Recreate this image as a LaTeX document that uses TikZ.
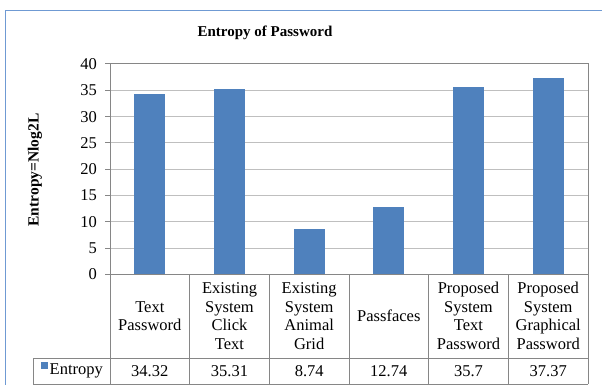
\documentclass[tikz,border=0pt]{standalone}
\usepackage{fontspec}
\setmainfont{Liberation Serif}
\definecolor{barblue}{HTML}{4F81BD}
\definecolor{framebl}{HTML}{6F9AD3}
\definecolor{gridc}{HTML}{BFBFBF}
\definecolor{axisc}{HTML}{868686}
\begin{document}
\begin{tikzpicture}[x=1pt,y=-1pt,
  lbl/.style={font=\fontsize{16.5}{18.5}\selectfont, inner sep=0pt},
  hdr/.style={lbl, align=center},
  grd/.style={draw=gridc, line width=1pt},
  axl/.style={draw=axisc, line width=1pt},
  tbl/.style={draw=axisc, line width=0.9pt},
  bar/.style={fill=barblue, draw=none}]
\useasboundingbox (0,0) rectangle (602,385);
% outer chart frame
\draw[draw=framebl, line width=1.2pt] (5.5,390) -- (5.5,10.5) -- (610,10.5);
% title
\node[font=\fontsize{15}{18}\bfseries\selectfont, inner sep=0pt] (title) at (265,33) {Entropy of Password};
% y label
\node[font=\fontsize{15.5}{18}\bfseries\selectfont, inner sep=0pt, rotate=90] (ylab) at (35,170) {Entropy=Nlog2L};
% gridlines
\foreach \v in {5,10,...,35} {
  \draw[grd] (110,{274.5-\v*5.2625}) -- (588,{274.5-\v*5.2625});
}
% plot border
\draw[axl] (110,64) -- (588,64) -- (588,274.5);
% tick marks and labels
\foreach \v in {0,5,...,40} {
  \draw[axl] (105,{274.5-\v*5.2625}) -- (110,{274.5-\v*5.2625});
  \node[lbl, anchor=east] (t\v) at (97,{274.5-\v*5.2625}) {\v};
}
% bars
\foreach \i/\val in {1/34.32,2/35.31,3/8.74,4/12.74,5/35.7,6/37.37} {
  \pgfmathsetmacro{\cx}{110+(\i-0.5)*79.67}
  \fill[barblue] ({\cx-15.5},274.5) rectangle ({\cx+15.5},{274.5-\val*5.2625});
}
% axis lines
\draw[axl] (110,64) -- (110,274.5);
\draw[axl] (110,274.5) -- (588,274.5);
% data table
\foreach \i in {0,...,6} {
  \draw[tbl] ({110+\i*79.67},274.5) -- ({110+\i*79.67},384);
}
\draw[tbl] (33,358) -- (588,358);
\draw[tbl] (33,384) -- (588,384);
\draw[tbl] (33,358) -- (33,384);
% header texts
\node[hdr] (h1) at (149.8,316) {Text\\Password};
\node[hdr] (h2) at (229.5,316) {Existing\\System\\Click\\Text};
\node[hdr] (h3) at (309.2,316) {Existing\\System\\Animal\\Grid};
\node[hdr] (h4) at (388.8,316) {Passfaces};
\node[hdr] (h5) at (468.5,316) {Proposed\\System\\Text\\Password};
\node[hdr] (h6) at (548.2,316) {Proposed\\System\\Graphical\\Password};
% data row
\fill[barblue] (41,362) rectangle (48,368.5);
\node[lbl, anchor=west] (leg) at (49.5,371) {Entropy};
\node[lbl] (d1) at (149.8,371) {34.32};
\node[lbl] (d2) at (229.5,371) {35.31};
\node[lbl] (d3) at (309.2,371) {8.74};
\node[lbl] (d4) at (388.8,371) {12.74};
\node[lbl] (d5) at (468.5,371) {35.7};
\node[lbl] (d6) at (548.2,371) {37.37};
\end{tikzpicture}
\end{document}
